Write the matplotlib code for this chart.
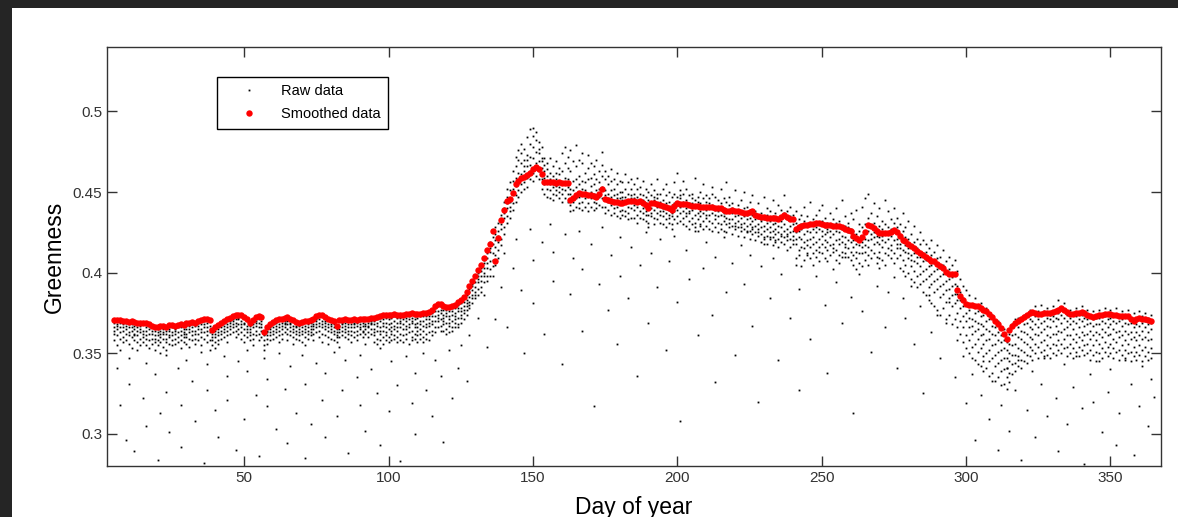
import numpy as np
import matplotlib
matplotlib.use("Agg")
import matplotlib.pyplot as plt
from matplotlib.patches import Rectangle
from matplotlib.ticker import FuncFormatter

plt.rcParams['font.family'] = ['Liberation Sans', 'DejaVu Sans']

# smoothed greenness, one value per day starting at day 5 (x1000)
smooth_start = 5
smooth_vals = [
    370.8, 370.5, 370.3, 370.0, 369.8, 369.5, 369.8, 369.3, 369.0, 368.8,   # 5-14
    369.0, 368.5, 368.0, 367.0, 366.0, 366.5, 366.8, 367.0, 366.5, 367.2,   # 15-24
    367.5, 367.0, 367.8, 368.0, 367.5, 368.5, 368.8, 369.5, 369.0, 370.0,   # 25-34
    370.5, 371.2, 371.0, 370.5, 364.6, 366.0, 367.5, 369.0, 370.0, 371.0,   # 35-44
    372.0, 372.8, 373.5, 374.0, 373.5, 372.5, 371.0, 369.0, 370.5, 372.5,   # 45-54
    373.0, 372.7, 363.0, 366.0, 368.3, 369.5, 370.5, 371.0, 371.5, 372.0,   # 55-64
    372.2, 371.5, 370.5, 369.5, 369.0, 369.5, 369.8, 370.0, 370.5, 371.5,   # 65-74
    372.8, 373.9, 373.5, 372.5, 371.5, 370.5, 370.2, 367.0, 370.5, 370.8,   # 75-84
    371.0, 370.6, 370.8, 371.2, 370.9, 371.0, 371.3, 371.0, 371.5, 371.7,   # 85-94
    372.0, 372.3, 373.0, 373.5, 374.0, 374.0, 373.6, 374.2, 374.0, 373.8,   # 95-104
    374.0, 374.2, 374.5, 374.8, 374.5, 374.5, 374.5, 374.8, 375.0, 375.5,   # 105-114
    377.0, 379.5, 380.6, 380.5, 379.5, 378.5, 378.4, 379.0, 380.0, 381.5,   # 115-124
    383.0, 385.0, 388.0, 391.7, 394.5, 398.0, 401.5, 405.0, 409.0, 414.0,   # 125-134
    417.6, 425.6, 407.0, 421.5, 432.4, 439.0, 444.7, 445.5, 449.7, 455.0,   # 135-144
    457.0, 459.0, 459.5, 460.5, 462.0, 464.0, 465.3, 464.5, 461.0, 456.4,   # 145-154
    456.0, 456.2, 456.0, 455.8, 456.0, 455.5, 455.6, 455.4, 445.0, 446.5,   # 155-164
    448.0, 449.2, 449.0, 448.5, 448.4, 448.0, 447.5, 447.0, 449.0, 452.0,   # 165-174
    445.5, 445.0, 444.5, 444.0, 444.0, 443.0, 443.5, 444.0, 444.5, 444.5,   # 175-184
    444.5, 444.0, 444.5, 443.5, 442.0, 440.0, 443.0, 443.0, 442.5, 442.0,   # 185-194
    441.5, 441.0, 440.0, 439.0, 441.5, 443.0, 442.8, 442.5, 442.3, 442.0,   # 195-204
    441.5, 441.5, 441.2, 441.0, 441.0, 441.0, 440.8, 440.5, 440.3, 440.0,   # 205-214
    440.0, 439.0, 438.0, 438.5, 439.0, 438.5, 438.0, 437.5, 437.2, 437.0,   # 215-224
    437.5, 438.0, 436.0, 435.0, 434.8, 434.5, 434.0, 434.0, 433.8, 433.6,   # 225-234
    433.5, 434.5, 435.5, 434.5, 433.5, 433.0, 427.3, 428.0, 428.8, 429.5,   # 235-244
    429.7, 430.0, 430.3, 430.7, 430.5, 430.0, 429.8, 429.5, 429.3, 429.1,   # 245-254
    428.8, 428.7, 428.0, 427.0, 426.5, 425.6, 423.0, 421.5, 420.5, 422.0,   # 255-264
    425.2, 429.7, 429.0, 427.7, 426.0, 424.6, 424.6, 424.6, 424.6, 425.5,   # 265-274
    426.7, 425.0, 423.0, 420.5, 419.5, 418.0, 416.4, 415.0, 413.5, 412.3,   # 275-284
    411.0, 409.5, 408.2, 407.5, 407.0, 405.5, 404.0, 403.0, 400.5, 399.0,   # 285-294
    399.0, 399.0, 389.0, 385.5, 383.0, 380.5, 380.0, 379.8, 379.5, 379.0,   # 295-304
    378.0, 377.0, 376.3, 374.5, 372.5, 370.2, 368.0, 365.5, 362.0, 358.9,   # 305-314
    364.5, 367.0, 369.0, 370.2, 371.2, 372.2, 373.5, 375.0, 375.3, 374.8,   # 315-324
    374.3, 374.5, 374.8, 375.0, 375.2, 375.3, 376.0, 377.0, 378.0, 377.0,   # 325-334
    375.5, 374.3, 374.5, 374.8, 375.2, 375.3, 374.8, 374.0, 373.3, 372.6,   # 335-344
    373.0, 373.5, 374.0, 374.3, 374.3, 374.3, 373.8, 373.5, 373.3, 373.3,   # 345-354
    373.3, 373.3, 371.5, 370.0, 371.5, 372.0, 371.5, 371.0, 370.5, 370.0,   # 355-364
]

# raw observations: "day v v v ..." (x1000)
raw_winter = """
5 369 366 362 358 364
6 368 361 365 355 367
7 366 363 369 359 352
8 364 368 360 366 357
9 367 362 358 365 369
10 363 366 356 361 368
11 368 360 364 353 366
12 365 362 367 358 361
13 361 366 357 364 368
14 367 359 363 355 365
15 364 368 360 357 362
16 366 361 355 364 359
17 362 365 358 367 353
18 364 359 362 356 366
19 361 357 364 352 359
20 363 358 355 361 365
21 360 364 357 362 350
22 365 359 362 354 363
23 362 357 364 359 352
24 364 360 356 365 361
25 361 366 358 363 355
26 365 359 362 356 364
27 363 366 360 357 367
28 366 361 364 358 353
29 362 365 357 363 360
30 365 360 367 356 362
31 363 367 359 365 354
32 366 361 364 358 368
33 364 359 367 362 356
34 367 362 365 358 369
35 365 368 360 363 355
36 368 363 366 359 370
37 366 369 361 364 357
38 363 367 358 365 352
39 362 358 364 355 360
40 364 360 357 362 353
41 365 361 358 363 356
42 366 362 368 359 364
43 367 363 360 365 369
44 368 364 361 366 357
45 369 365 370 362 367
46 370 366 363 371 368
47 371 367 364 369 360
48 371 368 372 365 362
49 370 366 363 368 359
50 368 365 361 369 357
51 367 363 360 365 370
52 365 361 367 358 363
53 366 362 368 359 355
54 369 364 367 361 370
55 369 366 371 362 358
56 368 364 370 360 366
57 361 358 362 355 352
58 363 359 361 356 364
59 365 361 358 363 366
60 366 362 364 359 368
61 367 363 360 365 369
62 368 364 366 361 357
63 369 365 362 367 359
64 369 366 363 368 370
65 370 365 368 362 358
66 368 364 361 366 369
67 367 363 365 360 356
68 366 362 364 359 367
69 365 361 367 358 363
70 366 362 364 357 368
71 367 363 365 360 355
72 366 368 362 364 359
73 367 363 369 361 365
74 368 365 362 367 358
75 370 366 368 363 371
76 371 367 369 364 360
77 370 366 368 362 357
78 369 365 367 361 370
79 368 364 366 360 356
80 367 363 365 359 368
81 366 362 368 358 364
82 363 360 365 357 361
83 367 363 365 360 354
84 368 364 366 361 369
85 367 363 369 360 365
86 366 362 368 359 364
87 368 364 366 361 357
88 368 363 366 360 369
89 367 364 369 361 358
90 368 365 362 366 370
91 367 364 369 360 363
92 368 365 362 367 356
93 369 366 363 367 360
94 369 365 368 362 370
"""

raw_spring = """
95 368 361 370 357 365 363
96 364 371 359 367 356 369
97 370 362 366 358 372 364
98 367 371 360 364 356 369
99 369 363 372 358 366 361
100 371 365 360 368 373 357
101 366 372 362 369 358 364
102 370 361 367 373 359 365
103 364 369 372 360 366 357
104 372 366 362 369 358 370
105 368 373 361 365 357 371
106 365 370 359 367 372 362
107 371 363 368 356 366 373
108 369 372 364 360 370 358
109 366 371 362 368 359 373
110 372 364 369 361 366 357
111 368 373 365 359 370 362
112 364 370 373 367 360 357
113 371 366 362 373 368 359
114 367 373 369 363 358 371
115 373 368 375 364 370 361
116 376 370 373 366 378 363
117 374 379 370 376 366 372
118 377 371 375 367 379 364
119 372 377 368 374 364 370
120 375 369 373 365 377 362
121 371 376 367 373 363 369
122 376 370 374 366 378 364
123 373 378 369 375 366 371
124 378 372 376 368 380 366
125 376 381 372 378 369 374
126 382 375 379 371 384 377
127 381 386 377 383 374 379
128 388 382 385 378 390 380
129 386 392 389 381 393 384
130 394 388 391 384 397 386
131 396 400 390 394 386 398
132 401 395 403 391 398 388
133 406 398 403 394 408 400
134 409 403 412 398 406 395
135 413 419 407 402 415 398
136 418 412 422 408 404 425
137 424 416 411 428 405 420
138 426 419 431 414 409 423
139 433 427 421 436 417 430
140 440 434 428 444 424 437
141 447 440 452 435 443 431
142 451 444 438 456 441 434
143 457 449 463 443 452 439
144 466 454 448 472 459 444
145 462 470 451 456 476 447
146 468 455 474 461 450 480
147 477 463 456 470 452 466
148 484 466 459 473 453 470
149 472 489 463 458 480 467
150 490 471 462 478 457 485
151 482 468 475 460 487 464
152 474 463 481 469 458 477
153 469 478 458 465 452 471
154 463 471 455 449 467 459
155 460 452 468 457 447 464
156 471 458 451 462 446 455
157 455 466 449 460 453 445
158 462 454 448 469 451 458
159 457 465 450 446 461 453
160 474 456 449 463 452 444
161 459 468 451 455 446 478
162 465 453 472 449 458 444
163 476 449 442 463 452 438
164 451 469 444 457 439 447
165 479 453 446 466 441 458
166 455 447 470 443 460 440
167 468 452 444 457 474 439
168 451 462 446 441 456 448
169 473 449 458 443 465 438
170 454 446 468 441 459 450
171 449 461 444 455 439 466
172 458 446 451 440 470 443
173 452 463 447 442 456 449
174 467 453 446 460 441 475
175 448 458 441 451 437 463
176 455 444 449 439 460 446
177 447 464 442 451 436 457
178 452 445 440 458 437 448
179 446 455 441 449 435 462
180 450 443 457 438 446 434
181 456 445 439 450 436 447
182 443 452 438 447 435 461
183 449 441 456 437 445 433
184 458 446 440 452 434 448
"""

raw_summer = """
185 446 439 455 434 449 442
186 441 452 436 447 431 459
187 453 443 438 449 434 445
188 440 448 433 457 445 437
189 447 438 452 432 443 436
190 436 445 431 441 450 428
191 448 440 435 455 437 444
192 439 451 434 445 430 447
193 446 437 449 433 441 458
194 438 444 431 449 436 442
195 445 435 440 452 430 438
196 437 448 433 443 428 455
197 444 436 450 431 439 434
198 435 442 430 447 437 427
199 449 438 443 433 456 440
200 439 447 435 462 442 431
201 446 437 451 432 441 448
202 438 444 434 449 430 457
203 445 435 440 429 452 437
204 437 448 432 443 438 427
205 443 434 449 439 430 446
206 436 445 431 441 459 428
207 442 433 447 437 426 444
208 435 443 430 450 438 429
209 446 437 441 432 455 427
210 434 444 429 439 448 436
211 441 432 446 436 427 443
212 437 449 431 442 426 453
213 433 441 436 447 428 439
214 440 431 445 435 425 438
215 436 443 430 452 439 427
216 432 440 435 446 426 437
217 439 430 444 434 456 425
218 433 442 428 438 447 431
219 437 429 443 433 424 440
220 431 438 427 451 435 429
221 436 428 442 432 423 439
222 430 437 426 445 434 428
223 435 427 440 431 450 422
224 429 436 425 441 433 426
225 434 426 439 430 421 444
226 428 436 424 448 432 427
227 433 425 438 429 420 435
228 427 434 423 443 430 425
229 432 424 437 428 419 433
230 426 433 422 447 429 421
231 431 423 436 427 418 440
232 425 432 421 438 428 422
233 430 422 435 426 417 445
234 424 431 420 437 427 419
235 429 421 434 425 442 416
236 423 432 419 439 428 424
237 430 422 437 426 448 418
238 424 433 420 438 427 423
239 429 421 435 425 416 441
240 423 430 418 436 426 420
241 431 418 425 409 438 421
242 422 414 429 433 411 426
243 427 436 416 421 404 430
244 415 424 432 419 441 408
245 429 412 420 426 435 417
246 421 431 409 425 416 444
247 418 427 433 412 422 405
248 425 414 419 436 428 410
249 430 421 413 427 439 416
250 412 426 432 418 423 442
251 424 416 428 409 434 420
252 419 431 414 425 407 427
253 426 411 422 437 417 430
254 415 428 418 413 433 424
255 431 420 408 426 414 440
256 418 425 432 411 421 406
257 423 413 427 419 445 410
258 416 429 412 422 435 418
259 425 410 420 431 415 428
260 413 422 427 408 419 437
261 420 411 416 426 405 433
262 409 418 424 413 439 402
263 417 426 406 412 421 430
264 412 419 428 404 416 441
265 421 408 417 430 413 446
266 426 416 434 420 411 449
267 414 428 421 409 437 424
268 425 418 431 412 422 443
269 419 410 427 423 406 435
270 422 429 413 418 440 409
271 416 423 408 427 420 432
272 424 412 419 430 405 445
273 411 421 428 415 424 438
274 427 417 409 423 433 414
"""

raw_autumn = """
275 420 431 412 425 440 406
276 428 415 421 409 434 418
277 411 424 418 430 403 415
278 419 408 426 414 437 401
279 413 422 405 417 428 398
280 421 409 415 400 432 412
281 404 417 411 424 396 408
282 412 401 419 407 429 394
283 406 415 398 410 421 391
284 410 399 418 404 393 425
285 401 412 395 407 420 388
286 408 396 413 402 386 418
287 398 409 391 404 415 383
288 405 393 411 399 420 381
289 395 406 388 401 413 379
290 402 390 409 396 417 377
291 392 403 385 398 410 374
292 399 387 405 393 378 414
293 389 400 382 395 407 371
294 396 384 402 390 374 410
295 386 397 379 392 405 368
296 393 381 399 387 371 408
297 383 392 375 387 366 401
298 378 388 370 383 362 396
299 373 384 366 379 357 392
300 370 380 361 375 353 389
301 366 377 358 372 350 386
302 371 362 379 354 367 347
303 364 375 356 370 346 384
304 369 359 376 351 365 343
305 361 373 353 368 342 381
306 367 356 374 348 362 339
307 358 370 350 365 341 378
308 364 352 371 345 359 336
309 355 367 347 362 338 374
310 361 349 366 342 356 333
311 351 363 344 358 335 370
312 357 346 361 339 352 330
313 347 358 340 353 331 365
314 352 341 357 335 347 328
315 345 356 338 350 332 362
316 355 343 361 349 337 368
317 349 362 344 356 339 371
318 360 348 366 353 342 372
319 352 364 346 359 372 341
320 363 351 368 357 345 374
321 356 369 349 362 373 344
322 366 354 371 360 348 377
323 359 370 352 365 375 346
324 368 356 373 362 350 379
325 361 371 354 366 347 376
326 369 357 374 363 351 380
327 358 370 352 365 376 348
328 367 355 372 361 349 378
329 360 371 353 366 374 347
330 370 356 373 362 350 379
331 362 372 355 367 376 349
332 371 358 375 364 352 383
333 363 374 356 369 377 350
334 372 359 376 365 353 381
335 361 370 354 366 374 348
336 368 356 372 361 350 377
337 359 370 353 365 374 347
338 369 357 373 362 351 378
339 360 371 354 366 375 348
340 370 358 374 363 352 379
341 361 372 355 367 376 349
342 368 356 371 362 350 377
343 359 369 352 364 373 346
344 367 355 371 361 349 376
345 358 368 351 363 372 345
346 368 356 372 362 350 377
347 360 370 353 365 374 347
348 369 357 373 363 351 378
349 361 371 354 366 375 348
350 368 356 372 362 350 377
351 359 370 353 365 374 347
352 369 357 373 363 351 378
353 360 370 352 364 373 346
354 367 355 371 361 349 376
355 358 369 352 364 373 347
356 368 356 372 362 350 377
357 359 369 351 363 372 345
358 366 354 370 360 348 375
359 358 368 351 363 372 346
360 367 355 371 361 349 376
361 359 369 352 364 373 345
362 366 354 370 360 348 375
363 358 368 351 363 372 346
364 365 353 369 359 347 374
"""

# scattered low outliers (day, value x1000)
low_days = [
    6, 7, 9, 10, 10, 12, 13, 15, 16, 16, 19, 20, 21, 23, 23, 24, 27, 28, 28, 30,
    32, 33, 35, 36, 37, 37, 40, 41, 43, 44, 44, 47, 48, 50, 51, 51, 54, 55, 57, 58,
    58, 61, 62, 64, 65, 66, 68, 70, 71, 71, 73, 75, 77, 78, 78, 81, 82, 84, 85, 86,
    89, 90, 90, 92, 94, 96, 97, 97, 100, 101, 103, 104, 106, 108, 109, 109, 112, 113, 115, 116,
    118, 119, 121, 122, 124, 125, 127, 128,
    131, 133, 134, 136, 137, 139, 140, 141, 143, 144, 146, 147, 149, 150, 150, 153, 154, 156, 157, 157,
    160, 161, 163, 164, 166, 167, 167, 170, 171, 173, 174, 176, 177, 179, 180, 180, 183, 184, 186, 187,
    189, 190, 191, 193, 194, 196, 197, 199, 200, 201, 203, 204, 206, 207, 209, 210, 212, 213, 213, 216,
    217, 219, 220, 222, 223, 225, 226, 228, 229, 230, 232, 233, 235, 236, 238, 239, 241, 242, 242, 245,
    246, 248, 249, 251, 252, 254, 255, 257, 258, 260, 261, 263, 264, 266, 267, 269, 270, 272, 273, 275,
    276, 278, 279, 281, 282, 284, 285, 287, 288, 290, 291, 293, 294, 296, 297, 299, 300,
    302, 303, 305, 306, 308, 309, 311, 312, 314, 315, 317, 318, 319, 321, 323, 324, 326, 327, 328, 331,
    332, 334, 335, 337, 338, 340, 341, 343, 344, 346, 347, 349, 350, 352, 353, 355, 357, 358, 360, 361,
    363, 364, 365,
]
low_vals = [
    341, 318, 296, 347, 331, 289, 352, 322, 305, 344, 337, 284, 313, 349, 326, 301, 341, 292, 318, 346,
    333, 308, 351, 282, 327, 343, 315, 298, 348, 336, 321, 290, 345, 309, 339, 352, 324, 286, 347, 317,
    334, 303, 350, 328, 294, 342, 313, 349, 285, 331, 306, 344, 321, 338, 298, 351, 311, 327, 346, 288,
    335, 318, 349, 302, 340, 325, 293, 353, 314, 345, 330, 283, 348, 319, 338, 300, 350, 327, 311, 346,
    336, 295, 352, 322, 341, 355, 333, 361,
    372, 386, 354, 398, 371, 391, 412, 366, 403, 421, 389, 350, 427, 408, 381, 419, 362, 430, 395, 413,
    343, 424, 387, 409, 426, 364, 402, 418, 317, 393, 428, 377, 411, 356, 422, 398, 384, 416, 336, 405,
    425, 369, 412, 391, 421, 352, 407, 423, 382, 308, 414, 396, 426, 361, 403, 419, 374, 410, 332, 422,
    388, 406, 349, 417, 393, 411, 367, 320, 404, 418, 384, 409, 346, 399, 414, 372, 405, 390, 327, 411,
    359, 398, 407, 380, 338, 402, 394, 369, 410, 385, 313, 399, 376, 405, 351, 392, 403, 366, 388, 397,
    341, 384, 372, 392, 356, 379, 325, 386, 363, 374, 347, 369, 382, 335, 358, 348, 319,
    337, 296, 324, 345, 309, 333, 290, 318, 341, 302, 327, 346, 284, 315, 339, 298, 331, 347, 311, 322,
    289, 343, 306, 329, 348, 316, 281, 337, 320, 345, 301, 326, 340, 293, 313, 346, 331, 287, 317, 342,
    305, 334, 323,
]


def parse_raw(block):
    xs, ys = [], []
    for line in block.strip().splitlines():
        parts = line.split()
        day = int(parts[0])
        for v in parts[1:]:
            xs.append(day)
            ys.append(int(v) / 1000.0)
    return xs, ys


raw_x, raw_y = [], []
for block in [raw_winter, raw_spring, raw_summer, raw_autumn]:
    bx, by = parse_raw(block)
    raw_x += bx
    raw_y += by
n_low = min(len(low_days), len(low_vals))
raw_x += low_days[:n_low]
raw_y += [v / 1000.0 for v in low_vals[:n_low]]

smooth_x = np.arange(smooth_start, smooth_start + len(smooth_vals))
smooth_y = np.array(smooth_vals) / 1000.0

fig = plt.figure(figsize=(11.78, 5.17), dpi=100, facecolor='#252525')
fig.patches.append(Rectangle((12 / 1178, 0), 1, 1 - 8 / 517, transform=fig.transFigure,
                             facecolor='white', edgecolor='none', zorder=-10))
ax = fig.add_axes([107 / 1178, 51 / 517, 1054 / 1178, 419 / 517])
ax.set_zorder(5)

ax.plot(raw_x, raw_y, linestyle='none', marker='s', markersize=1.3, markeredgewidth=0,
        color='black', label='Raw data')
ax.plot(smooth_x, smooth_y, linestyle='none', marker='o', markersize=4.6, markeredgewidth=0,
        color='red', label='Smoothed data')

ax.set_xlim(2.5, 367.5)
ax.set_ylim(0.28, 0.54)
ax.set_xticks([50, 100, 150, 200, 250, 300, 350])
ax.set_yticks([0.3, 0.35, 0.4, 0.45, 0.5])
ax.yaxis.set_major_formatter(FuncFormatter(lambda v, p: '%g' % round(v, 2)))
ax.tick_params(direction='in', length=7, width=1, top=True, right=True,
               labelsize=11, colors='#333333')
for s in ax.spines.values():
    s.set_color('#333333')
    s.set_linewidth(1)

ax.set_xlabel('Day of year', fontsize=16.5, color='black', labelpad=8)
ax.set_ylabel('Greenness', fontsize=16.5, color='black', labelpad=5)

leg = ax.legend(loc='upper left', bbox_to_anchor=(0.1044, 0.928), borderaxespad=0,
                fontsize=10.5, fancybox=False, edgecolor='black', framealpha=1,
                handlelength=3.4, handletextpad=0.5, borderpad=0.5, labelspacing=0.6)
leg.get_frame().set_linewidth(1)

fig.savefig('out.png', dpi=100, facecolor=fig.get_facecolor())
